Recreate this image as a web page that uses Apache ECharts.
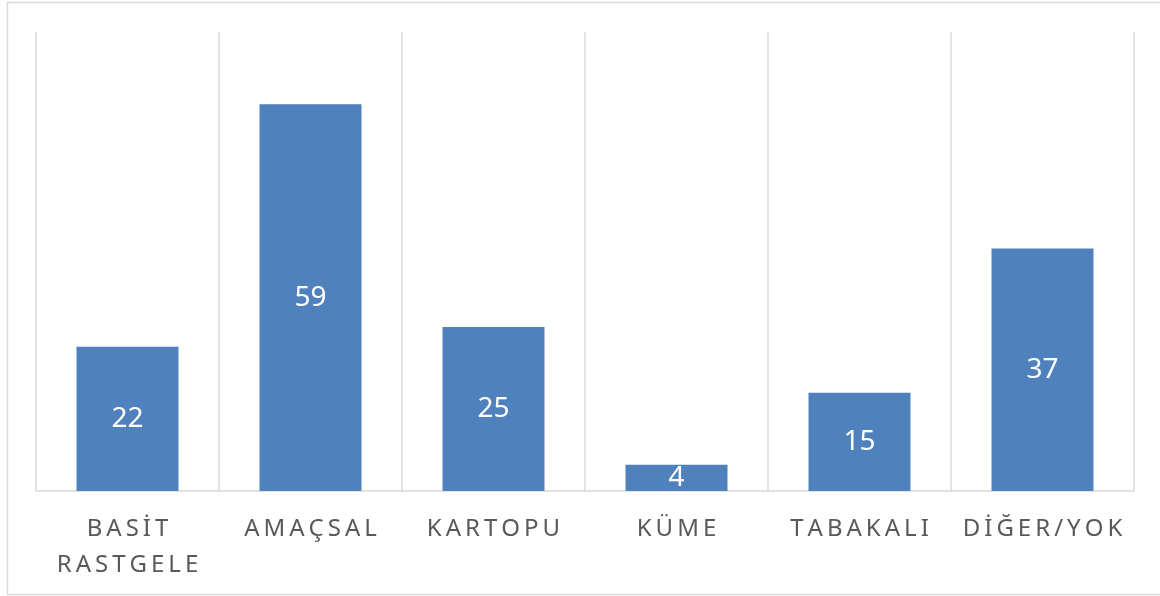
<!DOCTYPE html>
<html>
<head>
<meta charset="utf-8">
<style>
  html, body { margin: 0; padding: 0; background: #ffffff; }
  #chart { width: 1160px; height: 596px; }
</style>
<script src="https://cdn.jsdelivr.net/npm/echarts@6/dist/echarts.min.js"></script>
</head>
<body>
<div id="chart"></div>
<script>
// Sampling methods and counts
const categories = ['BASİT\nRASTGELE', 'AMAÇSAL', 'KARTOPU', 'KÜME', 'TABAKALI', 'DİĞER/YOK'];
const counts = [22, 59, 25, 4, 15, 37];

// spread letters out (tracking) with narrow spaces
function track(s) {
  return s.split('\n').map(line => Array.from(line).join('\u2006')).join('\n');
}

const chart = echarts.init(document.getElementById('chart'), null, { renderer: 'canvas' });
chart.setOption({
  animation: false,
  backgroundColor: '#ffffff',
  graphic: [{
    type: 'rect',
    shape: { x: 7.5, y: 2.5, width: 1170, height: 592 },
    style: { fill: 'none', stroke: '#d9d9d9', lineWidth: 1.5 },
    silent: true
  }],
  grid: { left: 36, right: 26, top: 32, bottom: 105, containLabel: false },
  xAxis: {
    type: 'category',
    data: categories,
    axisLine: { show: true, lineStyle: { color: '#d9d9d9', width: 1.5 } },
    axisTick: { show: false },
    splitLine: { show: true, lineStyle: { color: '#d9d9d9', width: 1.5 } },
    axisLabel: {
      interval: 0,
      margin: 20,
      color: '#595959',
      fontFamily: 'Noto Sans',
      fontSize: 24,
      lineHeight: 36,
      formatter: v => track(v)
    }
  },
  yAxis: {
    type: 'value',
    min: 0,
    max: 70,
    interval: 10,
    show: false,
    splitLine: { show: false }
  },
  series: [{
    type: 'bar',
    data: counts,
    barWidth: 102,
    itemStyle: { color: '#4f81bd' },
    label: {
      show: true,
      position: 'inside',
      color: '#ffffff',
      fontFamily: 'Noto Sans',
      fontSize: 28
    }
  }]
});
</script>
</body>
</html>
